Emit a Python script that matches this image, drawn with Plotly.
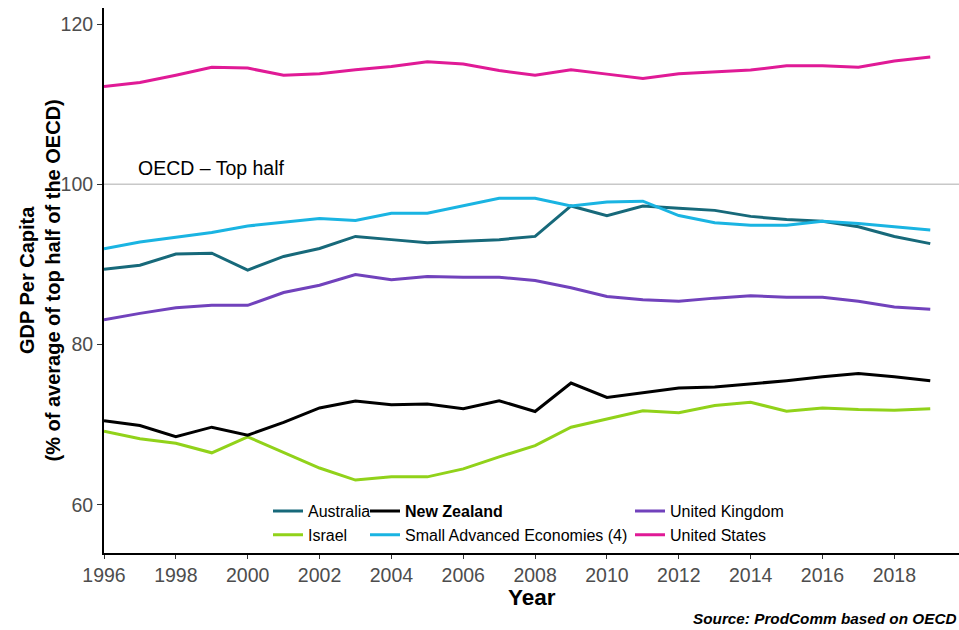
import plotly.graph_objects as go

years = list(range(1996, 2020))

australia = [89.4, 89.9, 91.3, 91.4, 89.3, 91.0, 92.0, 93.5, 93.1, 92.7, 92.9, 93.1,
             93.5, 97.3, 96.1, 97.3, 97.0, 96.75, 96.0, 95.6, 95.4, 94.7, 93.5, 92.6]
israel = [69.2, 68.25, 67.7, 66.5, 68.5, 66.5, 64.6, 63.1, 63.5, 63.5, 64.5, 66.0,
          67.4, 69.7, 70.7, 71.75, 71.5, 72.4, 72.8, 71.7, 72.1, 71.9, 71.8, 72.0]
new_zealand = [70.5, 69.9, 68.5, 69.7, 68.7, 70.3, 72.1, 72.96, 72.5, 72.6, 72.0, 73.0,
               71.65, 75.2, 73.4, 74.0, 74.6, 74.7, 75.1, 75.5, 76.0, 76.4, 76.0, 75.5]
small_adv = [91.96, 92.8, 93.4, 94.0, 94.8, 95.3, 95.75, 95.5, 96.4, 96.4, 97.3, 98.25,
             98.25, 97.3, 97.8, 97.9, 96.1, 95.2, 94.9, 94.9, 95.4, 95.1, 94.7, 94.3]
united_kingdom = [83.1, 83.9, 84.6, 84.9, 84.9, 86.5, 87.4, 88.75, 88.1, 88.5, 88.4, 88.4,
                  88.0, 87.1, 86.0, 85.6, 85.4, 85.8, 86.1, 85.9, 85.9, 85.4, 84.7, 84.4]
united_states = [112.2, 112.7, 113.6, 114.6, 114.5, 113.6, 113.8, 114.3, 114.7, 115.3, 115.0, 114.2,
                 113.6, 114.3, 113.75, 113.2, 113.8, 114.0, 114.25, 114.8, 114.8, 114.6, 115.4, 115.9]

x_ticks = list(range(1996, 2019, 2))
y_ticks = [60, 80, 100, 120]
reference_level = 100

series = [
    ("Australia", australia, "#17697a", "legend"),
    ("Israel", israel, "#91d21a", "legend"),
    ("<b>New Zealand</b>", new_zealand, "#000000", "legend2"),
    ("Small Advanced Economies (4)", small_adv, "#1ab4e2", "legend2"),
    ("United Kingdom", united_kingdom, "#7142bc", "legend3"),
    ("United States", united_states, "#e01a96", "legend3"),
]

fig = go.Figure()
for name, vals, color, leg in series:
    fig.add_trace(go.Scatter(x=years, y=vals, mode="lines", name=name,
                             line=dict(color=color, width=3), legend=leg))

fig.add_shape(type="line", xref="paper", x0=0, x1=1, yref="y",
              y0=reference_level, y1=reference_level,
              line=dict(color="#c8c8c8", width=1.5), layer="below")

fig.add_annotation(x=1999, y=102, xref="x", yref="y", text="OECD \u2013 Top half",
                   showarrow=False, font=dict(size=19.5, color="#000000"))

# y-axis title (two lines, rotated)
fig.add_annotation(x=(39 - 104) / 855, y=0.5, xref="paper", yref="paper",
                   xanchor="center", yanchor="middle", textangle=-90,
                   text="<b>GDP Per Capita<br>(% of average of top half of the OECD)</b>",
                   showarrow=False, font=dict(size=20, color="#000000"))

# x-axis title
fig.add_annotation(x=0.5, y=0, xref="paper", yref="paper",
                   xanchor="center", yanchor="middle", yshift=-44,
                   text="<b>Year</b>", showarrow=False,
                   font=dict(size=22.5, color="#000000"))

fig.add_annotation(x=1, y=0, xref="paper", yref="paper", xanchor="right", yanchor="bottom",
                   xshift=-1, yshift=-76,
                   text="<b><i>Source: ProdComm based on OECD</i></b>",
                   showarrow=False, font=dict(size=15.3, color="#000000"))

font_family = "Liberation Sans, Arial, sans-serif"
leg_common = dict(orientation="v", xanchor="left", yanchor="top",
                  bgcolor="rgba(0,0,0,0)", font=dict(size=16, color="#000000"),
                  tracegroupgap=0, itemwidth=30)
leg_y = 0.108

fig.update_layout(
    width=959, height=630,
    margin=dict(l=104, r=0, t=8, b=77, autoexpand=False),
    paper_bgcolor="white", plot_bgcolor="white",
    font=dict(family=font_family, color="#000000"),
    legend=dict(x=(268 - 104) / 855, y=leg_y, **leg_common),
    legend2=dict(x=(365 - 104) / 855, y=leg_y, **leg_common),
    legend3=dict(x=(630 - 104) / 855, y=leg_y, **leg_common),
    xaxis=dict(range=[1996, 2019.8], tickvals=x_ticks, ticks="outside", ticklen=4,
               tickcolor="#333333", tickwidth=1, showline=True, linecolor="#000000",
               linewidth=2, showgrid=False, zeroline=False, automargin=False,
               tickfont=dict(size=19.5, color="#4d4d4d")),
    yaxis=dict(range=[54, 122], tickvals=y_ticks, ticks="outside", ticklen=5,
               tickcolor="#333333", tickwidth=1, showline=True, linecolor="#000000",
               linewidth=2, showgrid=False, zeroline=False, automargin=False,
               tickfont=dict(size=19.5, color="#4d4d4d")),
)

fig.write_html("out.html", config={"displayModeBar": False},
               post_script="document.body.style.margin='0';document.body.style.overflow='hidden';")
